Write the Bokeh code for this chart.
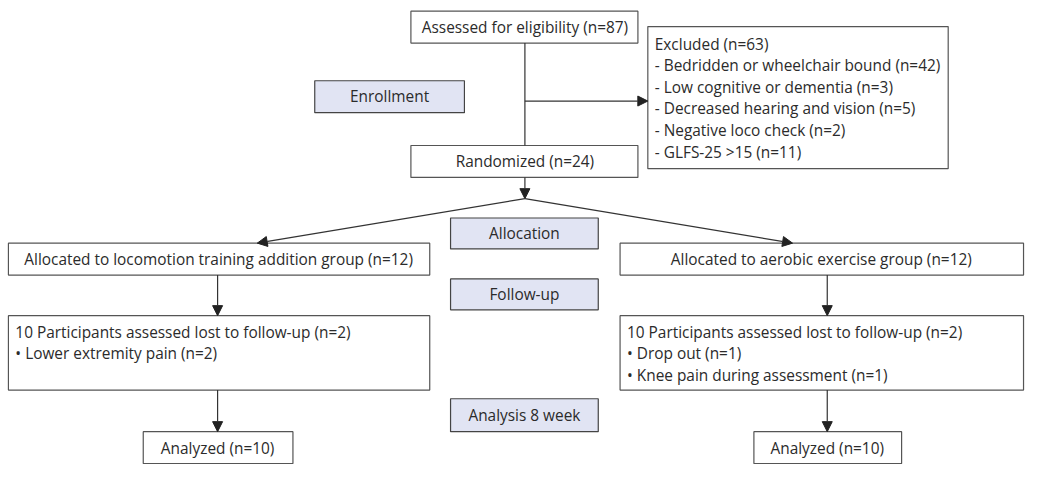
from bokeh.plotting import figure
from bokeh.models import Range1d, ColumnDataSource, Arrow, NormalHead
from bokeh.core.properties import value
from bokeh.embed import file_html
from bokeh.resources import INLINE

# ---- data (texts and counts) ----
n_assessed = 87
n_excluded = 63
excl_reasons = ["Bedridden or wheelchair bound", "Low cognitive or dementia",
                "Decreased hearing and vision", "Negative loco check", "GLFS-25 >15"]
excl_counts = [42, 3, 5, 2, 11]
n_randomized = 24
groups = ["locomotion training addition group", "aerobic exercise group"]
n_allocated = [12, 12]
n_assessed_fu = [10, 10]
n_lost = [2, 2]
lost_reasons = [["Lower extremity pain"], ["Drop out", "Knee pain during assessment"]]
lost_counts = [[2], [1, 1]]
n_analyzed = [10, 10]
stages = ["Enrollment", "Allocation", "Follow-up", "Analysis 8 week"]

# ---- layout (reference pixel coordinates) ----
FONT = value("Open Sans")
FS = "15.4px"
TXT = "#2b2b2b"
BORDER = "#555555"

p = figure(width=1027, height=464, output_backend="svg", toolbar_location=None,
           x_range=Range1d(4, 1040), y_range=Range1d(480, 0),
           min_border=0, background_fill_color="white", border_fill_color="white")
p.axis.visible = False
p.grid.visible = False
p.outline_line_color = None

# white boxes: left, right, top, bottom
wb = dict(l=[418, 657, 418, 12, 629, 12, 629, 148, 764],
          r=[647, 960, 647, 437, 1036, 437, 1036, 299, 913],
          t=[11, 27, 150, 251, 251, 326, 326, 446, 446],
          b=[44, 174, 183, 284, 284, 403, 403, 479, 479])
p.quad(left="l", right="r", top="t", bottom="b", source=ColumnDataSource(wb),
       fill_color="white", line_color=BORDER, line_width=1.2)

# stage boxes
sb = dict(l=[321, 458, 458, 458], r=[472, 607, 607, 607],
          t=[83, 225, 288, 412], b=[116, 257, 320, 446], name=stages)
sb["cx"] = [(a + b) / 2 for a, b in zip(sb["l"], sb["r"])]
sb["cy"] = [(a + b) / 2 for a, b in zip(sb["t"], sb["b"])]
ssrc = ColumnDataSource(sb)
p.quad(left="l", right="r", top="t", bottom="b", source=ssrc,
       fill_color="#e1e4f3", line_color="#444444", line_width=1.2)
p.text(x="cx", y="cy", text="name", source=ssrc, text_font=FONT, text_font_size=FS,
       text_color=TXT, text_align="center", text_baseline="middle")

# centered single texts
ct = dict(x=[533, 533, 224, 832, 223, 838],
          y=[28, 167, 268, 268, 463, 463],
          s=[f"Assessed for eligibility (n={n_assessed})",
             f"Randomized (n={n_randomized})",
             f"Allocated to {groups[0]} (n={n_allocated[0]})",
             f"Allocated to {groups[1]} (n={n_allocated[1]})",
             f"Analyzed (n={n_analyzed[0]})",
             f"Analyzed (n={n_analyzed[1]})"])
p.text(x="x", y="y", text="s", source=ColumnDataSource(ct), text_font=FONT,
       text_font_size=FS, text_color=TXT, text_align="center", text_baseline="middle")

# left-aligned multi-line texts
lines, lx, ly = [], [], []
excl_lines = [f"Excluded (n={n_excluded})"] + [f"- {r} (n={c})" for r, c in zip(excl_reasons, excl_counts)]
for i, s in enumerate(excl_lines):
    lines.append(s); lx.append(664); ly.append(45 + i * 22.4)
for gi, x0 in enumerate([19, 636]):
    fl = [f"{n_assessed_fu[gi]} Participants assessed lost to follow-up (n={n_lost[gi]})"]
    fl += [f"\u2022 {r} (n={c})" for r, c in zip(lost_reasons[gi], lost_counts[gi])]
    for i, s in enumerate(fl):
        lines.append(s); lx.append(x0); ly.append(343 + i * 22.5)
p.text(x="x", y="y", text="s", source=ColumnDataSource(dict(x=lx, y=ly, s=lines)),
       text_font=FONT, text_font_size=FS, text_color=TXT, text_align="left",
       text_baseline="middle")

# connector line without head
p.segment(x0=[533], y0=[44], x1=[533], y1=[150], line_color="#333333", line_width=1.2)

# arrows
ar = dict(xs=[533, 533, 533, 533, 223, 838, 223, 838],
          ys=[104, 183, 205, 205, 284, 284, 403, 403],
          xe=[657, 533, 263, 803, 223, 838, 223, 838],
          ye=[104, 205, 251, 251, 326, 326, 446, 446])
p.add_layout(Arrow(end=NormalHead(size=10, fill_color="#222222", line_color="#222222"),
                   x_start="xs", y_start="ys", x_end="xe", y_end="ye",
                   source=ColumnDataSource(ar), line_color="#333333", line_width=1.2))

open("out.html", "w").write(file_html(p, INLINE))
